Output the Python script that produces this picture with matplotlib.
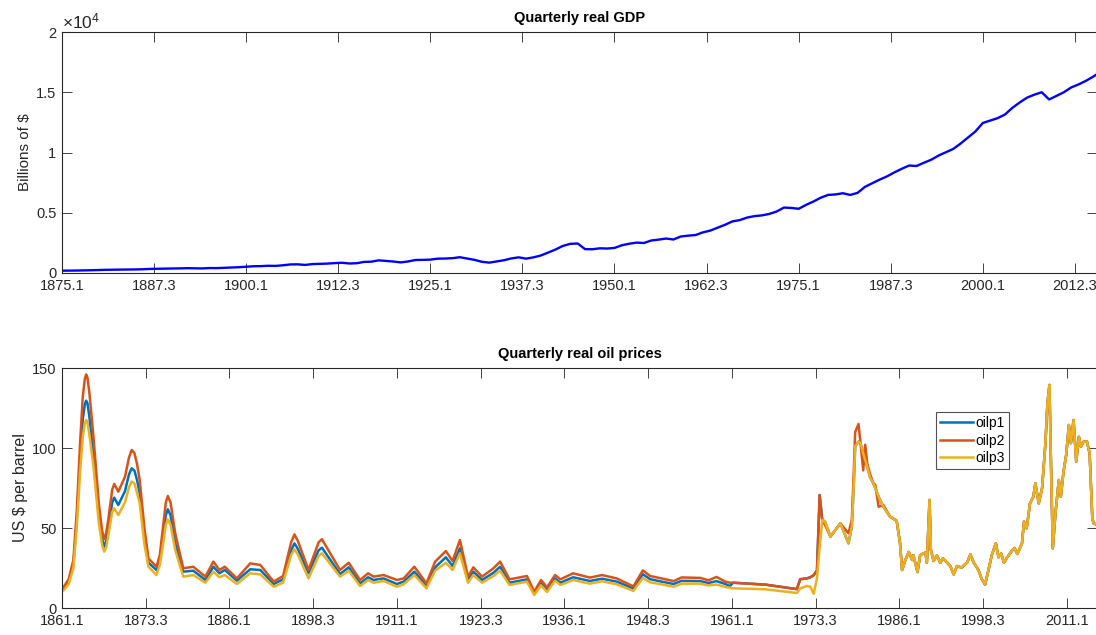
import matplotlib
matplotlib.use('Agg')
import matplotlib.pyplot as plt

plt.rcParams['font.family'] = ['Liberation Sans', 'DejaVu Sans']
plt.rcParams['mathtext.fontset'] = 'custom'
plt.rcParams['mathtext.rm'] = 'Liberation Sans'
plt.rcParams['mathtext.it'] = 'Liberation Sans:italic'

# ---------------- data ----------------
gdp_years = list(range(1875, 2016)) + [2015.5]
gdp_values = [
    190, 195, 205, 215, 230, 250, 265, 275, 285, 290,          # 1875-1884
    295, 310, 340, 350, 360, 375, 385, 400, 390, 380,          # 1885-1894
    410, 405, 430, 450, 480, 520, 560, 570, 600, 590,          # 1895-1904
    640, 710, 720, 670, 740, 760, 780, 820, 850, 790,          # 1905-1914
    810, 920, 940, 1050, 1000, 950, 880, 960, 1080, 1090,      # 1915-1924
    1110, 1190, 1200, 1230, 1310, 1200, 1090, 930, 860, 960,   # 1925-1934
    1060, 1210, 1300, 1190, 1300, 1450, 1700, 1950, 2250, 2420,  # 1935-1944
    2450, 1980, 1970, 2050, 2030, 2080, 2300, 2430, 2520, 2490,  # 1945-1954
    2700, 2770, 2860, 2780, 3030, 3100, 3150, 3370, 3520, 3760,  # 1955-1964
    4000, 4280, 4390, 4600, 4720, 4780, 4900, 5100, 5430, 5400,  # 1965-1974
    5330, 5650, 5930, 6250, 6480, 6520, 6620, 6480, 6650, 7150,  # 1975-1984
    7450, 7750, 8020, 8350, 8650, 8920, 8880, 9150, 9400, 9750,  # 1985-1994
    10020, 10300, 10750, 11250, 11750, 12450, 12650, 12850, 13150, 13700,  # 1995-2004
    14150, 14550, 14800, 15000, 14400, 14700, 15000, 15400, 15650, 15950,  # 2005-2014
    16300, 16500]                                               # 2015, 2015Q3
gdp_start = 1875
gdp_ticklabels = ['1875.1', '1887.3', '1900.1', '1912.3', '1925.1', '1937.3',
                  '1950.1', '1962.3', '1975.1', '1987.3', '2000.1', '2012.3']
gdp_nquarters = 563
gdp_yticks = [0, 5000, 10000, 15000, 20000]
gdp_yticklabels = ['0', '0.5', '1', '1.5', '2']

oil_start = 1861
oil_nquarters = 619
oil_ticklabels = ['1861.1', '1873.3', '1886.1', '1898.3', '1911.1', '1923.3', '1936.1',
                  '1948.3', '1961.1', '1973.3', '1986.1', '1998.3', '2011.1']

# segment a: 1861-1961, three distinct series
oil_dates_a = [
    1861.0, 1861.3, 1862.0, 1862.7, 1863.2, 1863.7, 1864.1, 1864.4, 1864.6, 1864.8,
    1865.1, 1865.7, 1866.5, 1867.0, 1867.3, 1867.6, 1867.9, 1868.5, 1868.8, 1869.4,
    1870.4, 1871.0, 1871.4, 1871.8, 1872.2, 1872.6, 1873.3, 1873.9, 1875.1, 1875.6,
    1876.1, 1876.5, 1876.8, 1877.2, 1877.9, 1879.1, 1880.6, 1882.4, 1883.6, 1884.5,
    1885.3, 1887.1, 1889.1, 1890.6, 1892.6, 1894.0, 1895.2, 1895.7, 1896.2, 1897.8,
    1899.3, 1899.8, 1902.5, 1903.8, 1905.5, 1906.7, 1907.5, 1909.0, 1911.0, 1912.0,
    1913.6, 1915.4, 1916.7, 1918.3, 1919.3, 1920.4, 1921.6, 1922.4, 1923.7, 1925.4,
    1926.4, 1927.8, 1930.4, 1931.5, 1932.5, 1933.4, 1934.6, 1935.4, 1937.3, 1939.8,
    1941.6, 1943.8, 1946.3, 1947.7, 1948.8, 1950.5, 1952.3, 1953.5, 1956.3, 1957.5,
    1958.7, 1960.0, 1960.7, 1961.2]
oilp1_a = [
    11.5, 12.3, 16.5, 27, 55, 92, 118, 127, 129.6, 128,
    119, 94.6, 58, 43, 38.3, 42, 49, 66, 69, 64.4,
    73, 83.5, 87.3, 86, 80, 71.7, 44, 28.3, 23.75, 30,
    45, 58, 61.7, 58, 40.4, 22.7, 23.3, 17.5, 25.8, 21.7,
    23.75, 17.1, 24.2, 23.75, 15, 17.9, 36, 40.4, 37, 21.7,
    36, 37.7, 21.25, 25.4, 15.4, 19.2, 17.5, 18.5, 15, 16.5,
    22.7, 13.75, 25.4, 31.7, 26.25, 37.3, 17.5, 22.7, 17.5, 22,
    25.8, 15.8, 17.9, 9.2, 15.4, 11.25, 18.5, 15.8, 19.2, 16.9,
    18.3, 16.5, 12.2, 21.1, 18, 16.5, 15, 17, 16.8, 15.6,
    16.8, 15, 13.75, 15.8]
oilp2_a = [
    12.5, 13.5, 18, 30, 60, 103, 132, 143, 146, 144,
    134, 107, 65, 48, 43, 47, 55, 74, 77.5, 72.7,
    82, 94, 98.75, 97, 90, 80, 50, 31, 25.8, 33,
    51, 66, 70, 66, 46.7, 24.8, 25.8, 19.6, 29, 23.75,
    25.8, 18.5, 27.9, 26.9, 16.5, 20, 41, 46, 42, 23.75,
    41, 43, 23.75, 28.3, 17.5, 21.7, 19.6, 20.6, 17.5, 18.5,
    25.8, 15.4, 29, 35.6, 29.4, 42.5, 19.6, 25.4, 19.6, 24.8,
    29, 17.9, 20, 10.2, 17.5, 12.9, 20.6, 17.9, 21.7, 19,
    20.6, 18.5, 13.5, 23.5, 20, 18.5, 16.8, 19.1, 18.8, 17.3,
    19.4, 16.5, 15.8, 15.8]
oilp3_a = [
    10.5, 11.25, 15, 25, 50, 85, 107, 115, 117.5, 116,
    108, 88.3, 53, 39, 35.2, 38, 45, 60, 62.3, 58.1,
    66, 75.5, 79, 78, 72, 65.4, 40, 25.8, 20.6, 27,
    40, 52, 55.4, 52, 36.25, 19.6, 20.6, 15.8, 22.7, 19.2,
    20.6, 15, 21.7, 21, 13.3, 15.8, 33, 36.7, 33.5, 18.5,
    32.5, 34.2, 19.6, 23.3, 13.75, 17.5, 15.8, 16.9, 13.3, 14.8,
    20.6, 12.3, 23.3, 28.3, 23.75, 34.2, 15.8, 20.6, 15.8, 20,
    23.3, 14.4, 16.5, 8.1, 14.2, 10, 17.1, 14.4, 17.5, 15.2,
    16.7, 14.8, 10.7, 18.8, 16, 14.8, 13.3, 15.2, 15.2, 14.1,
    14.7, 13.1, 12.7, 12.3]

# segment b: 1966-1985
oil_dates_b = [
    1966.0, 1970.7, 1971.2, 1972.2, 1972.7, 1973.2, 1973.7, 1974.1, 1974.5, 1974.9,
    1975.7, 1977.2, 1978.4, 1978.9, 1979.2, 1979.4, 1979.9, 1980.2, 1980.6, 1980.9,
    1981.2, 1981.6, 1982.1, 1982.4, 1982.9, 1983.6, 1984.6, 1985.6]
oilp1_b = [
    14.6, 11.8, 18.0, 18.5, 19.2, 20.5, 23.5, 70.6, 55.0, 54.0,
    44.6, 52.9, 40.4, 50.8, 78.0, 101.0, 104.0, 103.0, 96.6, 92.5,
    88.3, 82.0, 78.0, 75.0, 69.6, 63.3, 57.1, 54.5]
oilp2_b = [
    14.6, 11.8, 18.0, 18.5, 19.2, 20.5, 23.5, 70.6, 54.0, 52.0,
    44.6, 52.9, 46.7, 55.0, 86.0, 110.0, 115.0, 103.0, 86.0, 102.0,
    90.4, 84.0, 78.0, 77.0, 63.3, 64.4, 57.1, 54.5]
oilp3_b = [
    11.7, 9.4, 12.3, 13.75, 13.3, 8.9, 18.5, 38.0, 55.0, 54.0,
    44.6, 52.9, 40.4, 50.8, 78.0, 101.0, 104.0, 103.0, 96.6, 92.5,
    88.3, 82.0, 78.0, 75.0, 69.6, 63.3, 57.1, 54.5]

# segment c: 1986-2015, all three series coincide
oil_dates_c = [
    1986.1, 1986.4, 1986.9, 1987.4, 1987.9, 1988.1, 1988.7, 1989.1, 1989.4, 1989.9,
    1990.1, 1990.5, 1990.7, 1991.1, 1991.6, 1992.1, 1992.5, 1992.9, 1993.3, 1993.6,
    1994.1, 1994.6, 1995.3, 1995.7, 1996.1, 1996.6, 1997.1, 1997.8, 1998.3, 1998.8,
    1999.3, 1999.8, 2000.4, 2000.8, 2001.2, 2001.6, 2002.1, 2002.8, 2003.2, 2003.6,
    2004.3, 2004.6, 2005.0, 2005.5, 2006.0, 2006.3, 2006.8, 2007.3, 2007.8, 2008.1,
    2008.4, 2008.6, 2008.9, 2009.3, 2009.8, 2010.1, 2010.5, 2010.9, 2011.3, 2011.6,
    2012.0, 2012.4, 2012.8, 2013.1, 2013.5, 2014.0, 2014.4, 2014.8, 2015.0, 2015.5]
oil_common_c = [
    40.4, 23.75, 30, 35, 30, 32.9, 22.5, 32.9, 33.75, 34.6,
    28.3, 67.5, 36.25, 29.4, 32.9, 28.3, 31, 29.4, 27.5, 26.25,
    21, 26.25, 25.2, 27, 28.3, 33.5, 28.3, 23.75, 18, 14.6,
    23.75, 33.1, 40.4, 31.7, 34, 28.3, 31.7, 35.8, 37.5, 33.75,
    40.4, 54, 49.8, 65.4, 69.6, 77.9, 65.4, 74.8, 102.9, 127.9,
    139.4, 96.6, 37.3, 59.2, 80, 69.6, 85.2, 95.6, 114.4, 103,
    117.5, 91.5, 107, 100.8, 104, 104, 96.6, 56, 52.9, 52]

oil_dates = oil_dates_a + oil_dates_b + oil_dates_c
oil_series = {
    'oilp1': oilp1_a + oilp1_b + oil_common_c,
    'oilp2': oilp2_a + oilp2_b + oil_common_c,
    'oilp3': oilp3_a + oilp3_b + oil_common_c,
}
oil_colors = {'oilp1': '#0072BD', 'oilp2': '#D95319', 'oilp3': '#EDB120'}
oil_yticks = [0, 50, 100, 150]


def to_quarter(years, start):
    return [(y - start) * 4 + 1 for y in years]


# ---------------- figure ----------------
W, H = 1096, 635
fig = plt.figure(figsize=(W / 100, H / 100), dpi=100)
axc = '#262626'


def style(ax):
    for s in ax.spines.values():
        s.set_color(axc)
        s.set_linewidth(0.8)
    ax.tick_params(direction='in', length=7, width=0.6, color=axc,
                   labelcolor=axc, labelsize=10.5, top=True, right=True, pad=4)


ax1 = fig.add_axes([62 / W, 1 - 273 / H, 1035 / W, 241 / H])
ax1.plot(to_quarter(gdp_years, gdp_start), gdp_values, color='#0000FF', lw=1.7)
ax1.set_xlim(1, gdp_nquarters)
ax1.set_ylim(0, 20000)
ax1.set_xticks([1 + 50 * i for i in range(len(gdp_ticklabels))])
ax1.set_xticklabels(gdp_ticklabels)
ax1.set_yticks(gdp_yticks)
ax1.set_yticklabels(gdp_yticklabels)
ax1.set_ylabel('Billions of $', fontsize=11, color=axc, labelpad=3)
ax1.set_title('Quarterly real GDP', fontsize=10.5, fontweight='bold', pad=7)
ax1.text(0.0, 1.003, r'$\times10^{4}$', transform=ax1.transAxes,
         ha='left', va='bottom', fontsize=12.5, color=axc)
style(ax1)

ax2 = fig.add_axes([62 / W, 1 - 608 / H, 1035 / W, 240 / H])
qx = to_quarter(oil_dates, oil_start)
for name, vals in oil_series.items():
    ax2.plot(qx, vals, color=oil_colors[name], lw=1.8, label=name)
ax2.set_xlim(1, oil_nquarters)
ax2.set_ylim(0, 150)
ax2.set_xticks([1 + 50 * i for i in range(len(oil_ticklabels))])
ax2.set_xticklabels(oil_ticklabels)
ax2.set_yticks(oil_yticks)
ax2.set_ylabel('US $ per barrel', fontsize=11.5, color=axc, labelpad=3)
ax2.set_title('Quarterly real oil prices', fontsize=10.5, fontweight='bold', pad=7)
style(ax2)
leg = ax2.legend(loc='upper left', bbox_to_anchor=(0.844, 0.817), borderaxespad=0,
                 fontsize=10, frameon=True, fancybox=False, handlelength=2.4,
                 handletextpad=0.2, borderpad=0.3, labelspacing=0.25)
leg.get_frame().set_edgecolor('#262626')
leg.get_frame().set_linewidth(0.8)

fig.savefig('out.png', dpi=100)
